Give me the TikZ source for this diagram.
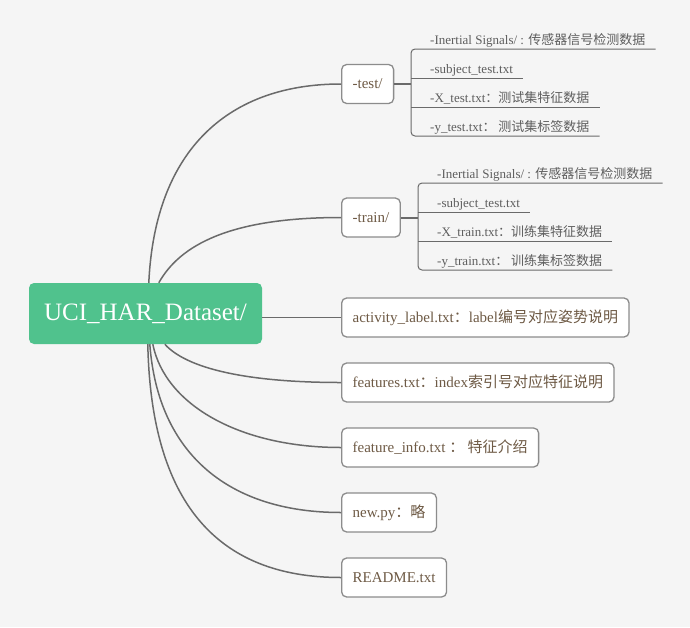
\documentclass[tikz,border=0pt]{standalone}
\usepackage{fontspec}
\setmainfont{Liberation Serif}
\newfontfamily\cjk{Noto Sans CJK SC}
\usetikzlibrary{calc}
\definecolor{bg}{HTML}{F5F5F5}
\definecolor{rootgreen}{HTML}{50C28D}
\definecolor{edgecol}{HTML}{6A6A6A}
\definecolor{boxline}{HTML}{8C8C8C}
\definecolor{maintext}{HTML}{6E5A45}
\definecolor{subtext}{HTML}{5E5E5E}
\begin{document}
\begin{tikzpicture}[x=1pt,y=-1pt,
  rootbox/.style={fill=rootgreen, rounded corners=5pt, minimum width=233pt, minimum height=61pt, text=white, font=\fontsize{25}{30}\selectfont, inner sep=0pt},
  filebox/.style={draw=boxline, line width=1.3pt, fill=white, rounded corners=5pt, minimum height=39pt, inner xsep=11pt, inner ysep=0pt, text height=11.5pt, text depth=2.5pt, text=maintext, font=\fontsize{15}{18}\selectfont, anchor=west},
  subitem/.style={inner sep=0pt, anchor=base west, text=subtext, font=\fontsize{13}{15}\selectfont},
  link/.style={draw=edgecol, line width=1.5pt},
  stem/.style={draw=edgecol, line width=2pt},
  uline/.style={draw=edgecol, line width=1pt}
]
\useasboundingbox (0,0) rectangle (690,627);
\fill[bg] (0,0) rectangle (690,627);

% file nodes
\node[filebox] (test) at (341,84) {-test/};
\node[filebox] (train) at (341,217.5) {-train/};
\node[filebox] (act) at (341,317.5) {activity\_label.txt{\cjk ：}label{\cjk 编号对应姿势说明}};
\node[filebox] (feat) at (341,382.5) {features.txt{\cjk ：}index{\cjk 索引号对应特征说明}};
\node[filebox] (finfo) at (341,447.5) {feature\_info.txt {\cjk ： 特征介绍}};
\node[filebox] (newpy) at (341,512.5) {new.py{\cjk ：略}};
\node[filebox] (readme) at (341,577.5) {README.txt};

% root node
\node[rootbox] (root) at (145.5,313.5) {UCI\_HAR\_Dataset/};

% connectors from root
\draw[link] ($(root.north west)+(120,0)$) .. controls (155,148) and (230,84) .. (test.west);
\draw[link] ($(root.north west)+(130,0)$) .. controls (180,245) and (230,217.5) .. (train.west);
\draw[link] (root.east |- act.west) -- (act.west);
\draw[link] ($(root.south west)+(136,0)$) .. controls (190,372) and (260,382.5) .. (feat.west);
\draw[link] ($(root.south west)+(124,0)$) .. controls (165,405) and (240,447.5) .. (finfo.west);
\draw[link] ($(root.south west)+(121,0)$) .. controls (158,455) and (230,512.5) .. (newpy.west);
\draw[link] ($(root.south west)+(119,0)$) .. controls (151,500) and (215,577.5) .. (readme.west);

% test sub items
\node[subitem] (ta) at (430,44) {-Inertial Signals/ : {\cjk 传感器信号检测数据}};
\node[subitem] (tb) at (430,73) {-subject\_test.txt};
\node[subitem] (tc) at (430,102) {-X\_test.txt{\cjk ：测试集特征数据}};
\node[subitem] (td) at (430,131) {-y\_test.txt{\cjk ： 测试集标签数据}};
\coordinate (tbr) at (411,84);
\draw[stem] (test.east) -- (tbr);
\draw[uline, rounded corners=4pt] ($(ta.base east)+(10,5)$) -- (411,49) -- (411,136) -- ($(td.base east)+(10,5)$);
\draw[uline] (411,78) -- ($(tb.base east)+(10,5)$);
\draw[uline] (411,107) -- ($(tc.base east)+(10,5)$);

% train sub items
\node[subitem] (ra) at (437,178) {-Inertial Signals/ : {\cjk 传感器信号检测数据}};
\node[subitem] (rb) at (437,207) {-subject\_test.txt};
\node[subitem] (rc) at (437,236) {-X\_train.txt{\cjk ：训练集特征数据}};
\node[subitem] (rd) at (437,265) {-y\_train.txt{\cjk ： 训练集标签数据}};
\coordinate (rbr) at (418,217.5);
\draw[stem] (train.east) -- (rbr);
\draw[uline, rounded corners=4pt] ($(ra.base east)+(10,5)$) -- (418,183) -- (418,270) -- ($(rd.base east)+(10,5)$);
\draw[uline] (418,212) -- ($(rb.base east)+(10,5)$);
\draw[uline] (418,241) -- ($(rc.base east)+(10,5)$);
\end{tikzpicture}
\end{document}
